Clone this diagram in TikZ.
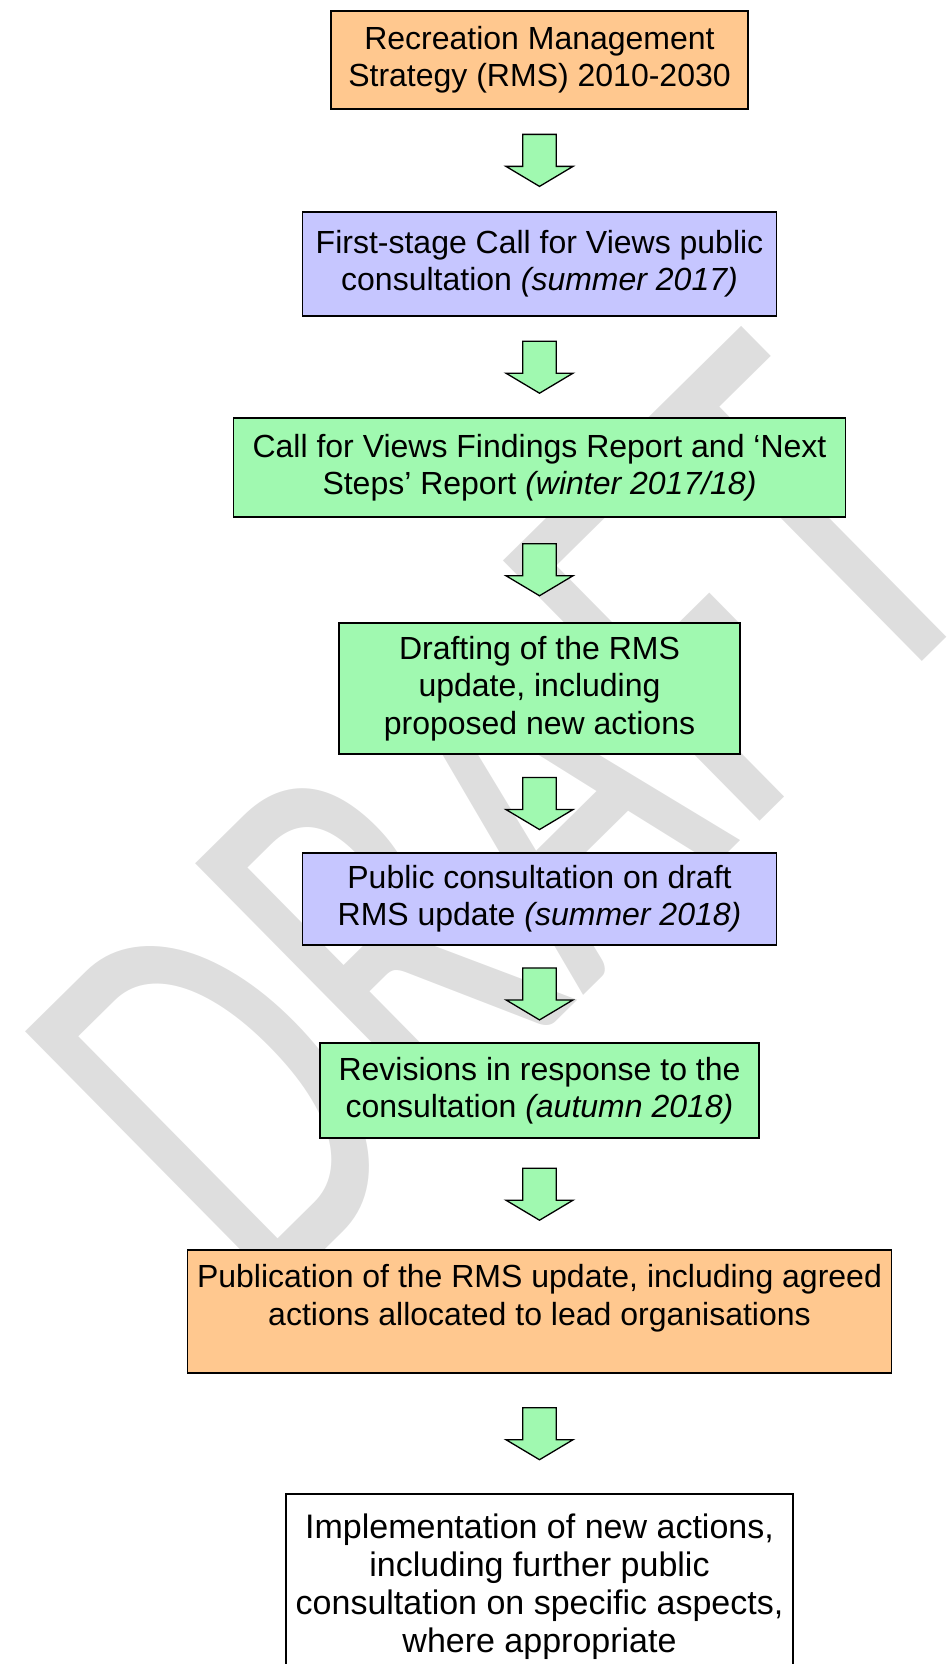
\documentclass[tikz,border=0pt]{standalone}
\usepackage{fontspec}
\usepackage{graphicx}
\usepackage{color}
\usepackage{tikz}
\usetikzlibrary{positioning,calc}
\setmainfont{Liberation Sans}
\newfontfamily\wmfont{Carlito}
\definecolor{rmsorange}{RGB}{255,200,143}
\definecolor{consblue}{RGB}{198,198,255}
\definecolor{repgreen}{RGB}{160,249,176}
\definecolor{wmgrey}{RGB}{222,222,222}

\begin{document}
\begin{tikzpicture}[x=1pt,y=1pt,node distance=100pt,
  stage/.style={draw,line width=1.8pt,outer sep=0pt,align=center,inner sep=3pt,
    font=\fontsize{32}{37.5}\selectfont},
  keystage/.style={stage,fill=rmsorange},
  consult/.style={stage,fill=consblue},
  report/.style={stage,fill=repgreen},
  flowarrow/.pic={\draw[line width=1.3pt,fill=repgreen]
    (-16.8,26) -- (16.8,26) -- (16.8,-6) -- (33.5,-6) -- (0,-26)
    -- (-33.5,-6) -- (-16.8,-6) -- cycle;}]
  \useasboundingbox (0,0) rectangle (948,-1664);

  \node[text=wmgrey,font=\wmfont,inner sep=0,anchor=base west,rotate=44.6]
    (draftmark) at (263.5,-1310.8) {\resizebox{1033pt}{365pt}{DRAFT}};

  \node[keystage,minimum width=417pt,minimum height=98.3pt] (rms) at (539.5,-59.9)
    {Recreation Management\\Strategy (RMS) 2010-2030};
  \node[consult,minimum width=474pt,minimum height=104.3pt] (callviews) [below=102.7pt of rms]
    {First-stage Call for Views public\\consultation \textit{(summer 2017)}};
  \node[report,minimum width=612pt,minimum height=98.4pt] (findings) [below=102.3pt of callviews]
    {Call for Views Findings Report and ‘Next\\Steps’ Report \textit{(winter 2017/18)}};
  \node[report,minimum width=401pt,minimum height=131.6pt] (drafting) [below=106pt of findings]
    {Drafting of the RMS\\update, including\\proposed new actions};
  \node[consult,minimum width=474pt,minimum height=92.3pt] (pubcons) [below=98.4pt of drafting]
    {Public consultation on draft\\RMS update \textit{(summer 2018)}};
  \node[report,minimum width=439pt,minimum height=95.6pt] (revisions) [below=97.7pt of pubcons]
    {Revisions in response to the\\consultation \textit{(autumn 2018)}};
  \node[keystage,minimum width=704pt,minimum height=123.3pt] (publication) [below=111.7pt of revisions]
    {Publication of the RMS update, including agreed\\actions allocated to lead organisations\rule[-33.5pt]{0pt}{33.5pt}};
  \node[stage,fill=white,minimum width=507pt,minimum height=186pt,
    font=\fontsize{34}{38}\selectfont] (implement) [below=120.7pt of publication]
    {Implementation of new actions,\\including further public\\consultation on specific aspects,\\where appropriate};

  \pic at ($(rms.south)!.5!(callviews.north)$) {flowarrow};
  \pic at ($(callviews.south)!.5!(findings.north)$) {flowarrow};
  \pic at ($(findings.south)!.5!(drafting.north)$) {flowarrow};
  \pic at ($(drafting.south)!.5!(pubcons.north)$) {flowarrow};
  \pic at ($(pubcons.south)!.5!(revisions.north)$) {flowarrow};
  \pic at ($(revisions.south)!.5!(publication.north)$) {flowarrow};
  \pic at ($(publication.south)!.5!(implement.north)$) {flowarrow};

\end{tikzpicture}
\end{document}
